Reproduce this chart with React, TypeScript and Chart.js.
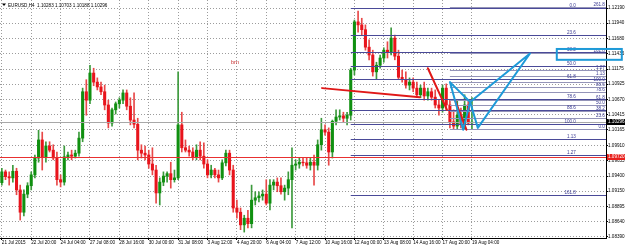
import React, { useEffect, useRef } from 'react';
import { Chart, registerables } from 'chart.js';

Chart.register(...registerables);

// ---- Candle data (EURUSD H4) ----
const openP = [
  1.0929, 1.0947, 1.0939, 1.0937, 1.0948, 1.0917, 1.0880, 1.0910, 1.0924, 1.0942,
  1.0970, 1.1000, 1.0972, 1.0990, 1.0983, 1.0970, 1.0934, 1.0930, 1.0972, 1.0975,
  1.0973, 1.0978, 1.1003, 1.1080, 1.1066, 1.1111, 1.1096, 1.1088, 1.1080, 1.1058,
  1.1028, 1.1050, 1.1060, 1.1066, 1.1078, 1.1056, 1.1033, 1.1026, 1.0983, 1.0978,
  1.0975, 1.0960, 1.0950, 1.0912, 1.0930, 1.0940, 1.0944, 1.0934, 1.0937, 1.1025,
  1.0987, 1.0983, 1.0980, 1.0972, 1.0983, 1.0973, 1.0960, 1.0942, 1.0950, 1.0942,
  1.0937, 1.0962, 1.0978, 1.0950, 1.0887, 1.0880, 1.0859, 1.0870, 1.0861, 1.0900,
  1.0904, 1.0907, 1.0910, 1.0895, 1.0925, 1.0930, 1.0924, 1.0914, 1.0920, 1.0934,
  1.0958, 1.0960, 1.0963, 1.0962, 1.0958, 1.0963, 1.0958, 1.0992, 1.1017, 1.1013,
  1.0980, 1.1031, 1.1038, 1.1040, 1.1036, 1.1041, 1.1116, 1.1196, 1.1191, 1.1183,
  1.1154, 1.1141, 1.1113, 1.1124, 1.1136, 1.1149, 1.1146, 1.1169, 1.1139, 1.1104,
  1.1100, 1.1091, 1.1096, 1.1086, 1.1075, 1.1086, 1.1073, 1.1080, 1.1071, 1.1058,
  1.1053, 1.1086, 1.1058, 1.1030, 1.1023, 1.1041, 1.1025, 1.1058, 1.10283,
];
const highP = [
  1.0953, 1.0950, 1.0947, 1.0958, 1.0953, 1.0925, 1.0917, 1.0929, 1.0947, 1.0975,
  1.1016, 1.1013, 1.0997, 1.0997, 1.0992, 1.0980, 1.0942, 1.0990, 1.0980, 1.0983,
  1.0983, 1.1013, 1.1086, 1.1100, 1.1124, 1.1119, 1.1103, 1.1096, 1.1091, 1.1066,
  1.1053, 1.1063, 1.1070, 1.1083, 1.1083, 1.1070, 1.1078, 1.1036, 1.0992, 1.0990,
  1.0983, 1.0987, 1.0958, 1.0937, 1.0947, 1.0947, 1.0963, 1.0950, 1.1113, 1.1046,
  1.1000, 1.0990, 1.0987, 1.0992, 1.0997, 1.0995, 1.0967, 1.0958, 1.0953, 1.0950,
  1.0967, 1.0983, 1.0983, 1.0958, 1.0900, 1.0887, 1.0875, 1.0883, 1.0925, 1.0914,
  1.0914, 1.0917, 1.0934, 1.0934, 1.0934, 1.0937, 1.0937, 1.0925, 1.0947, 1.0987,
  1.0967, 1.0970, 1.0970, 1.0970, 1.0970, 1.0975, 1.1000, 1.1036, 1.1025, 1.1020,
  1.1033, 1.1050, 1.1050, 1.1046, 1.1046, 1.1119, 1.1199, 1.1214, 1.1202, 1.1191,
  1.1166, 1.1149, 1.1129, 1.1141, 1.1153, 1.1163, 1.1186, 1.1174, 1.1149, 1.1116,
  1.1113, 1.1103, 1.1103, 1.1096, 1.1091, 1.1096, 1.1086, 1.1086, 1.1083, 1.1066,
  1.1091, 1.1093, 1.1066, 1.1050, 1.1066, 1.1053, 1.1075, 1.1066, 1.10703,
];
const lowP = [
  1.0925, 1.0934, 1.0925, 1.0930, 1.0909, 1.0867, 1.0874, 1.0904, 1.0917, 1.0937,
  1.0963, 1.0950, 1.0963, 1.0980, 1.0967, 1.0925, 1.0922, 1.0925, 1.0967, 1.0967,
  1.0970, 1.0973, 1.0997, 1.1041, 1.1060, 1.1090, 1.1083, 1.1075, 1.1050, 1.1020,
  1.1023, 1.1043, 1.1053, 1.1060, 1.1050, 1.1025, 1.1020, 1.0967, 1.0970, 1.0967,
  1.0953, 1.0942, 1.0895, 1.0892, 1.0924, 1.0930, 1.0920, 1.0930, 1.0934, 1.0980,
  1.0980, 1.0973, 1.0967, 1.0967, 1.0967, 1.0953, 1.0937, 1.0937, 1.0937, 1.0930,
  1.0934, 1.0957, 1.0942, 1.0880, 1.0870, 1.0851, 1.0847, 1.0854, 1.0854, 1.0892,
  1.0897, 1.0900, 1.0892, 1.0884, 1.0917, 1.0914, 1.0910, 1.0900, 1.0909, 1.0854,
  1.0950, 1.0953, 1.0957, 1.0953, 1.0950, 1.0925, 1.0950, 1.0983, 1.1008, 1.0958,
  1.0970, 1.1025, 1.1033, 1.1030, 1.1025, 1.1033, 1.1108, 1.1179, 1.1174, 1.1149,
  1.1133, 1.1106, 1.1100, 1.1119, 1.1129, 1.1136, 1.1141, 1.1133, 1.1100, 1.1096,
  1.1086, 1.1083, 1.1080, 1.1070, 1.1070, 1.1066, 1.1066, 1.1066, 1.1053, 1.1041,
  1.1046, 1.1050, 1.1020, 1.1017, 1.1017, 1.1020, 1.1017, 1.1025, 1.10188,
];
const closeP = [
  1.0947, 1.0939, 1.0937, 1.0948, 1.0917, 1.0880, 1.0910, 1.0924, 1.0942, 1.0970,
  1.1000, 1.0972, 1.0990, 1.0983, 1.0970, 1.0934, 1.0930, 1.0972, 1.0975, 1.0973,
  1.0978, 1.1003, 1.1080, 1.1066, 1.1111, 1.1096, 1.1088, 1.1080, 1.1058, 1.1028,
  1.1050, 1.1060, 1.1066, 1.1078, 1.1056, 1.1033, 1.1026, 1.0983, 1.0978, 1.0975,
  1.0960, 1.0950, 1.0912, 1.0930, 1.0940, 1.0944, 1.0934, 1.0937, 1.1025, 1.0987,
  1.0983, 1.0980, 1.0972, 1.0983, 1.0973, 1.0960, 1.0942, 1.0950, 1.0942, 1.0937,
  1.0962, 1.0978, 1.0950, 1.0887, 1.0880, 1.0859, 1.0870, 1.0861, 1.0900, 1.0904,
  1.0907, 1.0910, 1.0895, 1.0925, 1.0930, 1.0924, 1.0914, 1.0920, 1.0934, 1.0958,
  1.0960, 1.0963, 1.0962, 1.0958, 1.0963, 1.0958, 1.0992, 1.1017, 1.1013, 1.0980,
  1.1031, 1.1038, 1.1040, 1.1036, 1.1041, 1.1116, 1.1196, 1.1191, 1.1183, 1.1154,
  1.1141, 1.1113, 1.1124, 1.1136, 1.1149, 1.1146, 1.1169, 1.1139, 1.1104, 1.1100,
  1.1091, 1.1096, 1.1086, 1.1075, 1.1086, 1.1073, 1.1080, 1.1071, 1.1058, 1.1053,
  1.1086, 1.1058, 1.1030, 1.1023, 1.1041, 1.1025, 1.1058, 1.1028, 1.10296,
];

// ---- Axes ----
const timeTickBars = [0, 8, 16, 24, 32, 40, 48, 56, 64, 72, 80, 88, 96, 104, 112, 120, 128];
const timeLabels = [
  '21 Jul 2015', '22 Jul 20:00', '24 Jul 04:00', '27 Jul 08:00', '28 Jul 16:00', '30 Jul 00:00',
  '31 Jul 08:00', '3 Aug 12:00', '4 Aug 20:00', '6 Aug 04:00', '7 Aug 12:00', '10 Aug 16:00',
  '12 Aug 00:00', '13 Aug 08:00', '14 Aug 16:00', '17 Aug 20:00', '19 Aug 04:00',
];
const priceTicks = [
  1.1219, 1.1194, 1.1168, 1.11435, 1.11175, 1.10925, 1.1067, 1.10415,
  1.10165, 1.0991, 1.09655, 1.094, 1.0915, 1.08895, 1.0864, 1.0839,
];
const priceMin = 1.08372;
const priceMax = 1.12323;
const slotMin = -0.5;
const slotMax = 164.5;

// ---- Objects ----
const titleText = 'EURUSD,H4  1.10283 1.10703 1.10188 1.10296';
const bidPrice = 1.10296;
const hLinePrice = 1.0972;

const fibARatios = [0, 23.6, 38.2, 50, 61.8, 78.6, 88.6, 100, 113, 127, 161.8];
const fibALabels = ['0.0', '23.6', '38.2', '50.0', '61.8', '78.6', '88.6', '100.0', '1.13', '1.27', '161.8'];
const fibAPrice0 = 1.1219;
const fibAPrice100 = 1.1027;
const fibAFromBar = 95;
const fibALabelBar = 156.3;

const fibBRatios = [0, 23.6, 38.2, 50, 61.8, 78.6, 88.6, 100, 113, 127, 161.8, 261.8];
const fibBLabels = ['0.0', '23.6', '38.2', '50.0', '61.8', '78.6', '88.6', '100.0', '1.13', '1.27', '161.8', '261.8'];
const fibBPrice0 = 1.10188;
const fibBPrice100 = 1.1096;
const fibBFromBar = 122;
const fibBLabelBar = 164.2;

const redLineBars = [[87.2, 113.8], [116, 121.2], [123.4, 126.5]];
const redLinePrices = [[1.1086, 1.1071], [1.1119, 1.105], [1.1066, 1.1017]];

const patternBars = [122, 125.6, 127.5, 129.6, 143.8];
const patternPrices = [1.1096, 1.1017, 1.1063, 1.102, 1.11435];

const boxBars = [151.1, 168.8];
const boxPrices = [1.1151, 1.1133];

const noteText = 'brn';
const noteBar = 62.4;
const notePrice = 1.1128;

const FONT = '"Liberation Sans", Arial, sans-serif';
const UP = '#109010';
const DOWN = '#e8141c';
const UP_WICK = '#3c9a3c';
const DOWN_WICK = '#e84848';
const NAVY = '#3a3a92';
const FIB_A = '#4a4a98';
const FIB_B = '#9494b8';
const BLUE = '#1e9ad8';
const GRID = '#9c9c9c';

const objectsPlugin = {
  id: 'objects',
  afterDatasetsDraw(chart: any) {
    const { ctx, chartArea: a, scales } = chart;
    const x = scales.x;
    const y = scales.y;
    const snap = (v: number) => Math.round(v) + 0.5;
    ctx.save();
    ctx.beginPath();
    ctx.rect(a.left, a.top, a.right - a.left, a.bottom - a.top);
    ctx.clip();

    const hline = (p: number, color: string, fromPx: number, width = 1) => {
      const py = snap(y.getPixelForValue(p));
      ctx.strokeStyle = color;
      ctx.lineWidth = width;
      ctx.beginPath();
      ctx.moveTo(fromPx, py);
      ctx.lineTo(a.right, py);
      ctx.stroke();
      return py;
    };

    hline(bidPrice, '#a8a8a8', a.left);

    ctx.font = `4.6px ${FONT}`;
    ctx.textBaseline = 'bottom';
    ctx.textAlign = 'right';
    fibBRatios.forEach((r, i) => {
      const p = fibBPrice0 + (fibBPrice100 - fibBPrice0) * r / 100;
      const py = hline(p, FIB_B, x.getPixelForValue(fibBFromBar));
      ctx.fillStyle = NAVY;
      ctx.fillText(fibBLabels[i], x.getPixelForValue(fibBLabelBar), py - 0.5);
    });
    fibARatios.forEach((r, i) => {
      const p = fibAPrice0 + (fibAPrice100 - fibAPrice0) * r / 100;
      const py = hline(p, FIB_A, x.getPixelForValue(fibAFromBar));
      ctx.fillStyle = NAVY;
      ctx.fillText(fibALabels[i], x.getPixelForValue(fibALabelBar), py - 0.5);
    });

    hline(hLinePrice, '#e83030', a.left);

    ctx.lineCap = 'round';
    ctx.strokeStyle = '#e01818';
    ctx.lineWidth = 2;
    redLineBars.forEach((b, i) => {
      ctx.beginPath();
      ctx.moveTo(x.getPixelForValue(b[0]), y.getPixelForValue(redLinePrices[i][0]));
      ctx.lineTo(x.getPixelForValue(b[1]), y.getPixelForValue(redLinePrices[i][1]));
      ctx.stroke();
    });

    const pt = (k: number) => [x.getPixelForValue(patternBars[k]), y.getPixelForValue(patternPrices[k])];
    ctx.strokeStyle = BLUE;
    ctx.lineWidth = 2;
    ctx.lineJoin = 'round';
    [[0, 1, 2, 0], [2, 3, 4, 2]].forEach((tri) => {
      ctx.beginPath();
      tri.forEach((k, j) => {
        const [px, py] = pt(k);
        if (j === 0) ctx.moveTo(px, py);
        else ctx.lineTo(px, py);
      });
      ctx.stroke();
    });

    ctx.font = `5.5px ${FONT}`;
    ctx.fillStyle = '#c83030';
    ctx.textAlign = 'left';
    ctx.textBaseline = 'middle';
    ctx.fillText(noteText, x.getPixelForValue(noteBar), y.getPixelForValue(notePrice));
    ctx.restore();
  },
  afterDraw(chart: any) {
    const { ctx, chartArea: a, scales, width } = chart;
    const x = scales.x;
    const y = scales.y;
    ctx.save();
    const tag = (p: number, bg: string) => {
      const py = Math.round(y.getPixelForValue(p));
      ctx.fillStyle = bg;
      ctx.fillRect(a.right + 1, py - 3, width - a.right - 1, 6);
      ctx.fillStyle = '#ffffff';
      ctx.font = `4.6px ${FONT}`;
      ctx.textAlign = 'left';
      ctx.textBaseline = 'middle';
      ctx.fillText(p.toFixed(5), a.right + 2, py);
    };
    tag(bidPrice, '#000000');
    tag(hLinePrice, '#e8201c');

    // title
    ctx.fillStyle = '#000';
    ctx.beginPath();
    ctx.moveTo(2, 3.5);
    ctx.lineTo(6, 3.5);
    ctx.lineTo(4, 6);
    ctx.closePath();
    ctx.fill();
    ctx.font = `4.6px ${FONT}`;
    ctx.textAlign = 'left';
    ctx.textBaseline = 'alphabetic';
    ctx.fillText(titleText, 8, 7);

    // highlight box
    const x0 = x.getPixelForValue(boxBars[0]);
    const x1 = x.getPixelForValue(boxBars[1]);
    const y0 = y.getPixelForValue(boxPrices[0]);
    const y1 = y.getPixelForValue(boxPrices[1]);
    ctx.strokeStyle = BLUE;
    ctx.lineWidth = 2;
    ctx.strokeRect(x0, y0, x1 - x0, y1 - y0);
    ctx.restore();
  },
};

export default function App() {
  const ref = useRef<HTMLCanvasElement>(null);
  useEffect(() => {
    document.body.style.margin = '0';
    const canvas = ref.current;
    if (!canvas) return;
    const up = closeP.map((c, i) => c >= openP[i]);
    const bodies = closeP.map((c, i) => ({ x: i, y: [openP[i], c] }));
    const wicks = closeP.map((_, i) => ({ x: i, y: [lowP[i], highP[i]] }));
    const chart = new Chart(canvas, {
      type: 'bar',
      data: {
        datasets: [
          {
            data: wicks as any,
            backgroundColor: up.map((u) => (u ? UP_WICK : DOWN_WICK)),
            barThickness: 1,
            grouped: false,
            order: 2,
            borderWidth: 0,
          } as any,
          {
            data: bodies as any,
            backgroundColor: up.map((u) => (u ? UP : DOWN)),
            barThickness: 2.4,
            grouped: false,
            order: 1,
            borderWidth: 0,
          } as any,
        ],
      },
      options: {
        animation: false,
        responsive: false,
        events: [],
        layout: { padding: 0 },
        plugins: { legend: { display: false }, tooltip: { enabled: false } },
        scales: {
          x: {
            type: 'linear',
            position: 'bottom',
            min: slotMin,
            max: slotMax,
            offset: false,
            afterBuildTicks: (ax: any) => {
              ax.ticks = timeTickBars.map((v) => ({ value: v }));
            },
            afterFit: (ax: any) => {
              ax.height = 9;
              ax.paddingLeft = 0;
              ax.paddingRight = 0;
            },
            ticks: {
              autoSkip: false,
              maxRotation: 0,
              minRotation: 0,
              align: 'start',
              padding: 0,
              color: '#000',
              font: { family: FONT, size: 4.6 },
              callback: (_v: any, i: number) => timeLabels[i],
            },
            grid: { color: GRID, offset: false, tickLength: 2, tickColor: '#000' },
            border: { color: '#000', width: 1, dash: [1, 2] },
          } as any,
          y: {
            type: 'linear',
            position: 'right',
            min: priceMin,
            max: priceMax,
            beginAtZero: false,
            afterBuildTicks: (ax: any) => {
              ax.ticks = priceTicks.map((v) => ({ value: v }));
            },
            afterFit: (ax: any) => {
              ax.width = 19;
              ax.paddingTop = 0;
              ax.paddingBottom = 0;
            },
            ticks: {
              autoSkip: false,
              padding: 0,
              color: '#000',
              font: { family: FONT, size: 4.6 },
              callback: (v: any) => Number(v).toFixed(5),
            },
            grid: { color: GRID, tickLength: 2, tickColor: '#000' },
            border: { color: '#000', width: 1, dash: [1, 2] },
          } as any,
        },
      },
      plugins: [objectsPlugin],
    });
    return () => chart.destroy();
  }, []);
  return (
    <canvas
      ref={ref}
      width={625}
      height={247}
      style={{ display: 'block', position: 'absolute', left: 0, top: 0, width: 625, height: 247, background: '#fff' }}
    />
  );
}
